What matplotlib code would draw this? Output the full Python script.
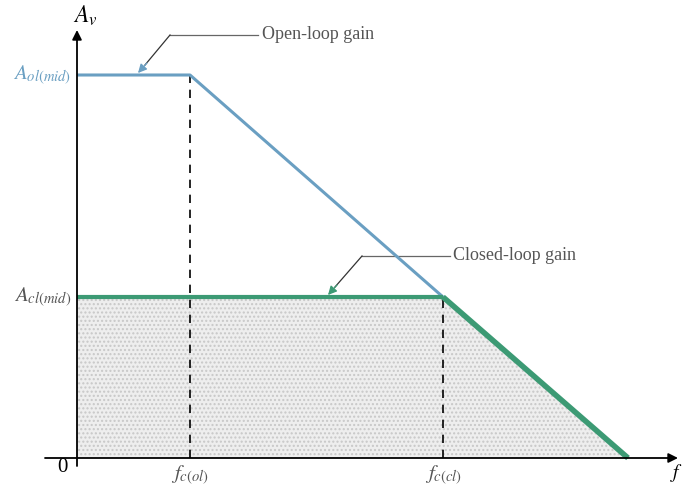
import matplotlib
matplotlib.use("Agg")
import matplotlib.pyplot as plt
from matplotlib.patches import Polygon

plt.rcParams['mathtext.fontset'] = 'stix'
plt.rcParams['font.family'] = ['Liberation Serif', 'DejaVu Serif']

# Data (frequency and gain in arbitrary linear units)
f_points = [0, 113, 366, 551]          # 0, fc(ol), fc(cl), end
open_loop_gain = [383, 383, 161, 0]
closed_loop_freq = [0, 366, 551]
closed_loop_gain = [161, 161, 0]
A_ol_mid = 383
A_cl_mid = 161
fc_ol = 113
fc_cl = 366

blue = '#6a9fc2'
green = '#3c9a74'
gray_text = '#555555'

fig = plt.figure(figsize=(6.86, 4.86), dpi=100)
ax = fig.add_axes([0, 0, 1, 1])
ax.set_xlim(-77, 609)
ax.set_ylim(-28, 458)
ax.axis('off')

# shaded region under closed-loop response
poly = Polygon(list(zip(closed_loop_freq + [0], closed_loop_gain + [0])),
               closed=True, facecolor='#eeeeee', edgecolor='#c8c8c8',
               hatch='....', linewidth=0, zorder=1)
ax.add_patch(poly)

# axes with arrows
ax.annotate('', xy=(601, 0), xytext=(-32, 0),
            arrowprops=dict(arrowstyle='-|>', color='black', lw=1.3,
                            mutation_scale=14, shrinkA=0, shrinkB=0), zorder=5)
ax.annotate('', xy=(0, 428), xytext=(0, -8),
            arrowprops=dict(arrowstyle='-|>', color='black', lw=1.3,
                            mutation_scale=14, shrinkA=0, shrinkB=0), zorder=5)

# dashed verticals
ax.plot([fc_ol, fc_ol], [0, A_ol_mid], ls=(0, (5, 4)), color='black', lw=1.2, zorder=3)
ax.plot([fc_cl, fc_cl], [0, A_cl_mid], ls=(0, (5, 4)), color='black', lw=1.2, zorder=3)

# responses
ax.plot(f_points, open_loop_gain, color=blue, lw=2.2, zorder=4, solid_capstyle='butt')
ax.plot(closed_loop_freq[:2], closed_loop_gain[:2], color=green, lw=3, zorder=4,
        solid_capstyle='butt')
ax.plot(closed_loop_freq[1:], closed_loop_gain[1:], color=green, lw=4, zorder=4,
        solid_capstyle='butt')

# labels
ax.text(8, 442, r'$A_v$', fontsize=17, ha='center', va='center')
ax.text(-6, A_ol_mid, r'$A_{ol(mid)}$', fontsize=15, color=blue, ha='right', va='center')
ax.text(-6, A_cl_mid, r'$A_{cl(mid)}$', fontsize=15, color=gray_text, ha='right', va='center')
ax.text(-15, -9, '0', fontsize=15, ha='center', va='center')
ax.text(fc_ol, -17, r'$f_{c(ol)}$', fontsize=15, color=gray_text, ha='center', va='center')
ax.text(fc_cl, -17, r'$f_{c(cl)}$', fontsize=15, color=gray_text, ha='center', va='center')
ax.text(593, -15, r'$f$', fontsize=14, ha='left', va='center')

# leader for open-loop gain
ax.plot([93, 181], [423, 423], color='#666666', lw=0.9)
ax.plot([93, 68], [423, 393], color='#333333', lw=0.9)
ax.annotate('', xy=(61, 385), xytext=(70, 395),
            arrowprops=dict(arrowstyle='-|>', color=blue, lw=0.9,
                            mutation_scale=13, shrinkA=0, shrinkB=0))
ax.text(185, 423, 'Open-loop gain', fontsize=13, color=gray_text, ha='left', va='center')

# leader for closed-loop gain
ax.plot([285, 373], [202, 202], color='#666666', lw=0.9)
ax.plot([285, 258], [202, 171], color='#333333', lw=0.9)
ax.annotate('', xy=(251, 163), xytext=(260, 173),
            arrowprops=dict(arrowstyle='-|>', color=green, lw=0.9,
                            mutation_scale=13, shrinkA=0, shrinkB=0))
ax.text(376, 202, 'Closed-loop gain', fontsize=13, color=gray_text, ha='left', va='center')

fig.savefig('out.png', dpi=100)
